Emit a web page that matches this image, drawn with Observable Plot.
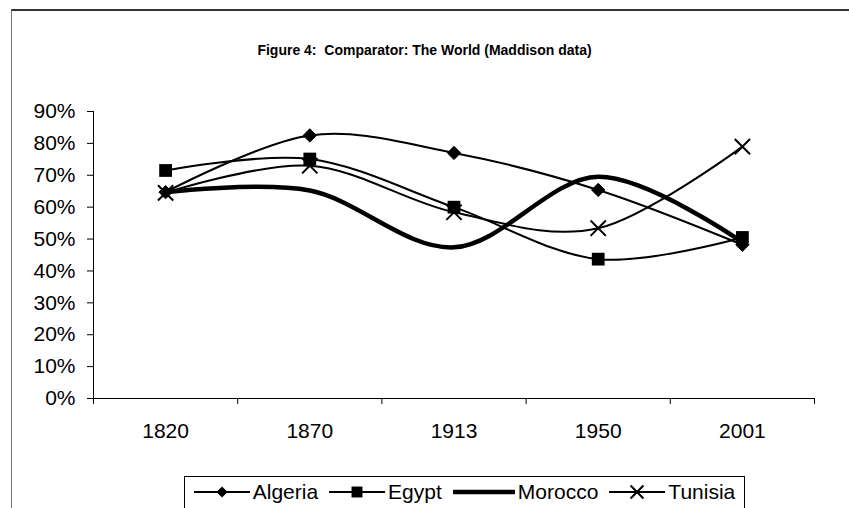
<!DOCTYPE html>
<html>
<head>
<meta charset="utf-8">
<script src="https://cdn.jsdelivr.net/npm/d3@7"></script>
<script src="https://cdn.jsdelivr.net/npm/@observablehq/plot@0.6"></script>
<style>
  html, body { margin: 0; padding: 0; background: #fff; }
  #wrap { position: relative; width: 849px; height: 508px; overflow: hidden; font-family: "Liberation Sans", Arial, sans-serif; }
  #frame { position: absolute; left: 11px; top: 9px; width: 850px; height: 520px; border-top: 2px solid #333; border-left: 1px solid #777; }
  #title { position: absolute; left: 0; width: 849px; top: 42px; text-align: center; font-weight: bold; font-size: 14px; color: #000; white-space: pre; }
  #chart { position: absolute; left: 0; top: 0; }
  #legend { position: absolute; left: 184px; top: 476px; width: 561px; height: 36px; border: 1px solid #000; box-sizing: border-box; display: flex; align-items: center; justify-content: center; gap: 11px; font-size: 21px; background: #fff; padding-bottom: 4px; }
  .item { display: flex; align-items: center; gap: 3px; }
  .item svg { display: block; }
</style>
</head>
<body>
<div id="wrap">
  <div id="frame"></div>
  <div id="chart"></div>
  <div id="title">Figure 4:  Comparator: The World (Maddison data)</div>
  <div id="legend"></div>
</div>
<script>
const years = ["1820", "1870", "1913", "1950", "2001"];
const seriesNames = ["Algeria", "Egypt", "Morocco", "Tunisia"];
const algeria = [0.647, 0.825, 0.770, 0.654, 0.482];
const egypt   = [0.715, 0.751, 0.600, 0.437, 0.505];
const morocco = [0.647, 0.652, 0.474, 0.695, 0.490];
const tunisia = [0.645, 0.730, 0.584, 0.534, 0.790];
const yTicks = [0, 0.1, 0.2, 0.3, 0.4, 0.5, 0.6, 0.7, 0.8, 0.9];

const values = {Algeria: algeria, Egypt: egypt, Morocco: morocco, Tunisia: tunisia};
const rows = [];
for (const s of seriesNames) {
  values[s].forEach((v, i) => rows.push({series: s, i: i + 0.5, year: years[i], value: v}));
}
const bandEdges = d3.range(years.length + 1);
const centers = years.map((_, i) => i + 0.5);

const H = 470;
const plot = Plot.plot({
  width: 849,
  height: H,
  marginLeft: 93,
  marginRight: 35,
  marginTop: 111,
  marginBottom: H - 398,
  style: {fontFamily: "Liberation Sans, Arial, sans-serif", fontSize: "21px", color: "#000", background: "transparent"},
  x: {domain: [0, years.length], axis: null},
  y: {domain: [0, 0.9], axis: null},
  marks: [
    Plot.axisY({ticks: yTicks, tickFormat: d => Math.round(d * 100) + "%", tickSize: 6, tickPadding: 12, fontSize: 21, label: null, stroke: "#000"}),
    Plot.axisX({ticks: bandEdges, tickFormat: () => "", tickSize: 6, label: null, stroke: "#000"}),
    Plot.axisX({ticks: centers, tickFormat: d => years[Math.round(d - 0.5)], tickSize: 0, tickPadding: 25, fontSize: 21, label: null}),
    Plot.ruleX([0], {stroke: "#000", strokeWidth: 1}),
    Plot.ruleY([0], {stroke: "#000", strokeWidth: 1.2}),
    Plot.line(rows.filter(d => d.series === "Morocco"), {x: "i", y: "value", curve: "cardinal", stroke: "#000", strokeWidth: 4.5}),
    Plot.line(rows.filter(d => d.series !== "Morocco"), {x: "i", y: "value", z: "series", curve: "cardinal", stroke: "#000", strokeWidth: 2}),
    Plot.dot(rows.filter(d => d.series === "Algeria"), {x: "i", y: "value", symbol: "diamond2", r: 6, fill: "#000", stroke: "#000", strokeWidth: 1}),
    Plot.dot(rows.filter(d => d.series === "Egypt"), {x: "i", y: "value", symbol: "square", r: 7.2, fill: "#000", stroke: "none"}),
    Plot.dot(rows.filter(d => d.series === "Tunisia"), {x: "i", y: "value", symbol: "times", r: 7, stroke: "#000", strokeWidth: 2})
  ]
});
document.getElementById("chart").appendChild(plot);

// Legend
const legend = d3.select("#legend");
const swatch = {
  Algeria: g => g.append("path").attr("d", d3.symbol(d3.symbolDiamond2, 80)()).attr("fill", "#000"),
  Egypt: g => g.append("path").attr("d", d3.symbol(d3.symbolSquare, 120)()).attr("fill", "#000"),
  Morocco: g => {},
  Tunisia: g => g.append("path").attr("d", d3.symbol(d3.symbolTimes, 110)()).attr("stroke", "#000").attr("stroke-width", 2).attr("fill", "none")
};
for (const s of seriesNames) {
  const item = legend.append("div").attr("class", "item");
  const w = s === "Morocco" ? 62 : 56;
  const svg = item.append("svg").attr("width", w).attr("height", 20);
  svg.append("line").attr("x1", 0).attr("x2", w).attr("y1", 10).attr("y2", 10)
    .attr("stroke", "#000").attr("stroke-width", s === "Morocco" ? 4.5 : 2);
  swatch[s](svg.append("g").attr("transform", `translate(${w / 2},10)`));
  item.append("span").text(s);
}
</script>
</body>
</html>
